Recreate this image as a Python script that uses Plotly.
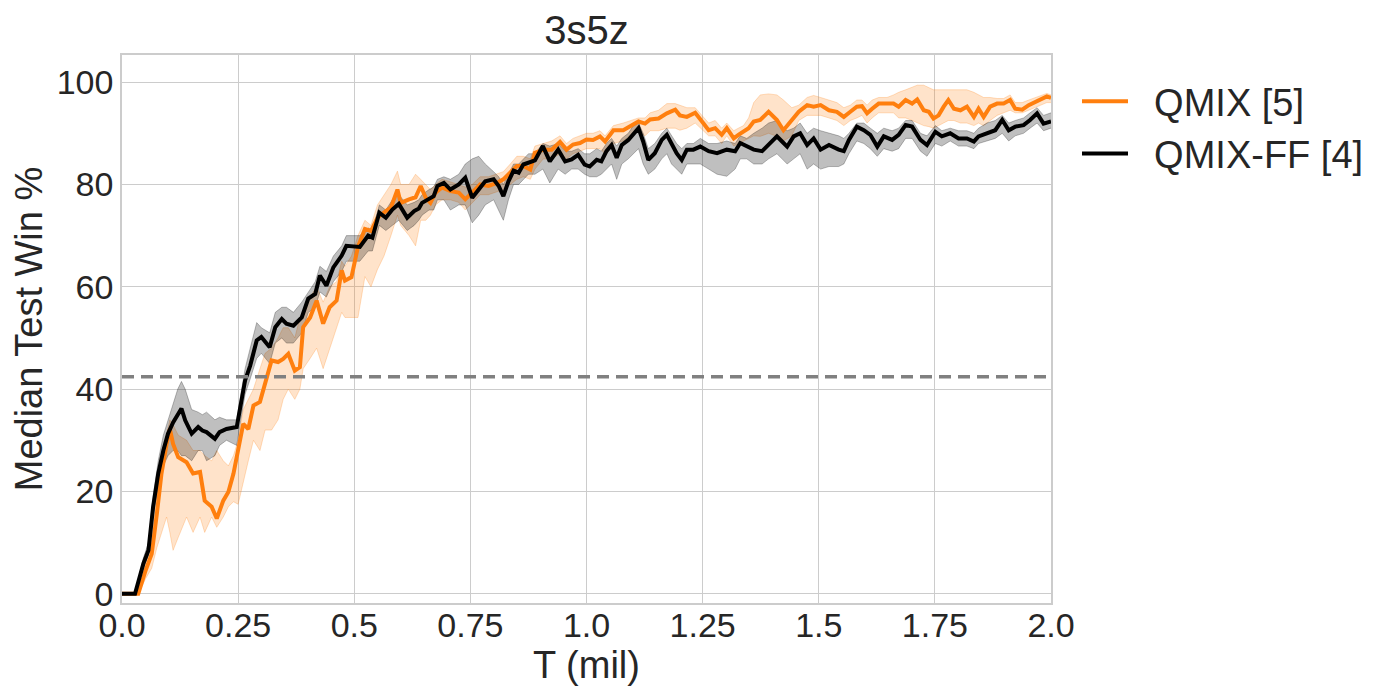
import plotly.graph_objects as go

# ---------------- data ----------------
ff_x = [0.0, 0.028, 0.046, 0.057, 0.067, 0.078, 0.089, 0.099, 0.11, 0.12, 0.128, 0.136, 0.15, 0.164, 0.173,
        0.182, 0.2, 0.21, 0.225, 0.247, 0.254, 0.265, 0.276, 0.29, 0.3, 0.318, 0.33, 0.344, 0.354, 0.369,
        0.387, 0.401, 0.416, 0.426, 0.44, 0.455, 0.473, 0.483, 0.512, 0.53, 0.539, 0.554, 0.568, 0.582,
        0.596, 0.614, 0.629, 0.639, 0.646, 0.661, 0.671, 0.679, 0.693, 0.707, 0.725, 0.739, 0.754, 0.768,
        0.782, 0.8, 0.811, 0.821, 0.832, 0.843, 0.854, 0.864, 0.875, 0.889, 0.906, 0.921, 0.939, 0.954,
        0.968, 0.982, 0.996, 1.007, 1.022, 1.032, 1.043, 1.054, 1.065, 1.076, 1.09, 1.101, 1.112, 1.122,
        1.133, 1.147, 1.162, 1.173, 1.183, 1.194, 1.205, 1.216, 1.23, 1.245, 1.263, 1.281, 1.302, 1.32,
        1.331, 1.345, 1.36, 1.378, 1.392, 1.41, 1.421, 1.432, 1.446, 1.46, 1.475, 1.489, 1.504, 1.522,
        1.543, 1.554, 1.565, 1.582, 1.597, 1.611, 1.626, 1.64, 1.658, 1.672, 1.687, 1.701, 1.719, 1.733,
        1.751, 1.765, 1.783, 1.801, 1.819, 1.834, 1.844, 1.862, 1.88, 1.895, 1.909, 1.923, 1.941, 1.955,
        1.97, 1.984, 2.0]
ff_med = [0, 0, 5.9, 8.5, 17, 23.5, 28, 31.3, 33.5, 35, 36.2, 33.9, 31.3, 32.6, 31.9,
          31.6, 30.3, 31.6, 32.2, 32.6, 35.8, 41.7, 44.6, 49.5, 50.2, 48.2, 52.1, 53.7, 52.8, 52.4,
          54, 57.7, 58.6, 62.2, 60.2, 63.8, 66.1, 68, 67.8, 70, 69.6, 74.5, 73.5, 75.1,
          76.2, 73.5, 74.8, 75.3, 76.4, 77.1, 77.7, 79.7, 80.3, 79, 80, 81.3, 77.4, 79,
          80.6, 81, 79.7, 77.7, 80.6, 82.7, 82.3, 83.9, 84.2, 84.7, 87.5, 84.5, 86.8, 84.5,
          84.9, 85.8, 83.9, 83.5, 84.8, 84.5, 86.5, 87.7, 85.2, 87.7, 88.7, 90, 91, 88.4,
          84.8, 86.1, 88.7, 89.7, 88.1, 86.1, 84.8, 86.8, 86.8, 87.4, 86.5, 86.1, 86.8, 86.5,
          88.1, 87.4, 86.8, 86.5, 87.7, 89.4, 88.4, 87.4, 89.4, 90, 87.7, 89, 86.8, 87.7,
          86.8, 86.5, 88.7, 91.3, 90.6, 89.7, 87.4, 89.4, 88.7, 89.7, 91.6, 91.3, 88.7, 87.7,
          90.3, 89.4, 90, 89, 89, 88.4, 89.4, 90, 90.6, 92.6, 90.6, 91.3, 91.6, 92.6,
          93.9, 91.9, 92.3]
ff_lo = [0, 0, 5, 7.5, 15, 21, 25, 27, 28, 28, 27, 27, 26, 28, 28,
         26, 27, 29, 30, 29, 33, 39, 42, 46, 47, 45, 49, 50, 49, 49,
         51, 55, 56, 59, 58, 61, 63, 65, 65, 67, 67, 72, 71, 72,
         73, 71, 72, 73, 74, 75, 75, 77, 77, 75, 76, 76, 72.5, 74,
         76, 77, 75, 73, 77, 80, 80, 81, 82, 82, 83, 80.3, 83, 82,
         83, 83, 82, 81.5, 81.5, 82, 83, 84, 81, 84, 85, 86, 87, 84,
         82, 83, 85, 86, 84, 83, 82, 84, 84, 84, 83, 82, 81.6, 83,
         85, 85, 84, 84, 85, 86, 85, 84, 85, 86, 83, 84, 83, 83.5,
         83.5, 84, 86, 88.5, 88, 87, 85.5, 87, 86.5, 87, 89, 89, 86.5, 85.5,
         88, 87.5, 88.5, 87.5, 87.5, 87, 88, 88.5, 89, 90, 88.5, 89.5, 90, 91,
         92, 90.5, 91]
ff_hi = [0, 0, 7, 10, 19, 26, 31, 34, 37, 40, 41.5, 40, 36, 35.5, 35,
         35.5, 34, 34.5, 34, 34, 38, 44, 48, 53, 52, 51, 55, 56, 56, 55,
         57, 59, 61, 64, 63, 66, 68, 70, 70, 71.5, 71, 76, 75, 77,
         78, 76, 76.5, 77, 78, 79, 79.5, 81, 81.5, 81, 82, 84, 85, 85.5,
         84, 82.5, 81.5, 80, 82, 84, 84, 85, 86, 86, 88, 87.5, 88, 86.5,
         86.5, 87, 86, 86, 87, 86.5, 88, 89, 87.5, 89, 90, 91.5, 92, 90,
         87, 88, 90, 91, 89.5, 88, 87, 88, 88, 89, 88, 88, 88.5, 88,
         89.5, 89, 90, 91, 92, 92.5, 91, 90.5, 91, 92, 90, 91, 90.5, 90,
         89.5, 89, 90, 92, 92, 91, 90, 91, 90.5, 91, 92.5, 92.5, 90, 89.5,
         91.5, 90.5, 91, 90.5, 90.5, 90, 91, 92, 92.5, 93.5, 92, 92.5, 93, 94,
         95, 93.5, 94]

qm_x = [0.0, 0.035, 0.051, 0.064, 0.075, 0.085, 0.096, 0.103, 0.11, 0.121, 0.139, 0.153, 0.168, 0.178,
        0.193, 0.204, 0.218, 0.229, 0.24, 0.25, 0.261, 0.272, 0.283, 0.297, 0.308, 0.322, 0.336, 0.347,
        0.358, 0.372, 0.383, 0.39, 0.405, 0.419, 0.433, 0.447, 0.462, 0.473, 0.48, 0.494, 0.508, 0.523,
        0.536, 0.55, 0.564, 0.579, 0.593, 0.6, 0.618, 0.632, 0.643, 0.654, 0.664, 0.675, 0.689, 0.707,
        0.725, 0.739, 0.754, 0.771, 0.789, 0.807, 0.821, 0.836, 0.85, 0.864, 0.879, 0.889, 0.907, 0.925,
        0.943, 0.957, 0.971, 0.986, 1.0, 1.014, 1.029, 1.04, 1.058, 1.079, 1.094, 1.112, 1.126, 1.137,
        1.155, 1.173, 1.191, 1.201, 1.216, 1.234, 1.252, 1.263, 1.277, 1.291, 1.302, 1.317, 1.327, 1.338,
        1.349, 1.36, 1.374, 1.392, 1.41, 1.424, 1.442, 1.457, 1.475, 1.489, 1.504, 1.522, 1.539, 1.554,
        1.568, 1.582, 1.593, 1.604, 1.615, 1.629, 1.647, 1.661, 1.672, 1.687, 1.701, 1.712, 1.726, 1.737,
        1.747, 1.758, 1.769, 1.779, 1.791, 1.805, 1.819, 1.834, 1.844, 1.855, 1.869, 1.884, 1.898, 1.912,
        1.923, 1.938, 1.952, 1.966, 1.981, 1.991, 2.0]
qm_med = [0, 0, 4.6, 7.8, 15.6, 23.5, 29.3, 32.2, 29.3, 26.7, 25.7, 23.5, 23.8, 18.2,
          17, 14.7, 18.2, 19.9, 23.5, 28, 33.2, 32.2, 36.8, 37.5, 41, 45.6, 45.3, 45.9,
          46.9, 43.6, 44.3, 52.1, 54, 57.3, 52.8, 56, 57.3, 63.2, 61.2, 61.9, 67.8, 71.3,
          70.9, 73.5, 74.5, 75.5, 79, 76.4, 77.1, 77.5, 79.7, 77.4, 76.4, 78.4, 79.4, 78.7,
          78.4, 77.1, 78.4, 80, 79.7, 80.3, 81, 82.3, 83.6, 83.6, 82.9, 86.2, 86.8, 86.8,
          88.3, 86.8, 87.8, 88.1, 88.8, 88.7, 89.4, 88.4, 90.6, 90.6, 91.4, 92.3, 91.9, 92.7,
          92.9, 93.9, 94.6, 93.5, 93.2, 94, 91.9, 90.6, 91, 89.7, 91, 89, 89.7, 90.3,
          91, 92.3, 92.6, 94.2, 92.6, 90.6, 92.6, 94.2, 95.5, 95.2, 95.5, 94.5, 94.2, 93.2,
          94.2, 95.2, 95.3, 93.9, 94.8, 95.8, 95.8, 95.8, 95.2, 96.5, 95.8, 96.6, 94.5, 94.2,
          92.9, 93.5, 95.2, 96.5, 94.8, 94.5, 95.2, 93.2, 94.8, 93.2, 95.2, 95.8, 95.8, 96.5,
          94.8, 94.6, 95.5, 96.1, 96.8, 97.2, 96.9]
qm_lo = [0, 0, 3, 5, 9, 12, 15, 12, 8.5, 11, 15, 12, 15, 12,
         15, 13, 15, 17, 18, 17.5, 22, 26, 30, 28, 32, 32, 34, 38,
         40, 38, 40, 44, 46, 48, 44, 48, 52, 55, 54, 54, 54, 62,
         60, 63.4, 66, 70, 74, 72, 70, 68, 73, 73, 74, 76, 77, 77,
         76.5, 75, 76.5, 78, 78, 78.5, 79, 80, 81, 81.5, 81, 83, 85, 85,
         86, 85, 86, 86.5, 87, 87, 87, 86, 88, 88.5, 89.5, 90.5, 89.5, 90.5,
         90.5, 91, 91, 90.6, 91, 92, 90.5, 89.5, 89.5, 88, 89.5, 87.5, 88, 88.5,
         89, 89.5, 89.4, 90, 89.4, 88.5, 89.5, 92.5, 93.5, 93.5, 93.5, 93, 92.5, 91.5,
         92.5, 93, 93.5, 92, 93, 94, 94, 94, 93, 93, 92.5, 92, 91.5, 91.3,
         91, 91.5, 92, 92.5, 92.5, 92, 92, 91.5, 92, 91.5, 92.5, 93.5, 94, 94.5,
         94, 94, 94.5, 95, 95.5, 96, 96]
qm_hi = [0, 0, 6, 11, 19, 26, 31, 34, 33, 31, 30, 28, 28, 27,
         26, 28, 26, 25, 27, 30, 36, 38, 40, 44, 47, 48, 50, 52,
         52, 50, 54, 55, 58, 60, 57, 60, 61, 65, 64, 66, 70, 73,
         72, 76, 78, 80, 82.6, 80, 80, 82, 81, 80, 79, 80, 81, 80.5,
         80, 79.5, 80, 81.5, 81.5, 82, 82.5, 84, 85.5, 85.5, 85, 87.5, 88, 88.5,
         89.5, 88, 89, 89.5, 90, 90, 90.5, 89.5, 91.5, 92, 92.5, 93, 93, 94,
         94.5, 95.8, 95.8, 95.5, 95, 95, 93, 92, 92.5, 91, 92, 90.5, 91, 91.5,
         93, 96, 97.5, 97.7, 97.5, 96.5, 95, 95.5, 97, 97.4, 97, 96.5, 96, 95,
         95.5, 96.5, 96.5, 95.5, 96.5, 97, 97, 97.5, 98, 98.5, 99, 99.4, 99.4, 99,
         98.5, 98.5, 98.5, 98.5, 98.5, 98.5, 98.5, 98, 97.5, 97, 97, 96.8, 96.8, 97.5,
         96, 96, 96.5, 97, 97.5, 97.8, 97.5]

baseline = 42.4
series_names = ["QMIX [5]", "QMIX-FF [4]"]
x_ticks = [0.0, 0.25, 0.5, 0.75, 1.0, 1.25, 1.5, 1.75, 2.0]
x_tick_text = ["0.0", "0.25", "0.5", "0.75", "1.0", "1.25", "1.5", "1.75", "2.0"]
y_ticks = [0, 20, 40, 60, 80, 100]

# ---------------- figure ----------------
FONT = "Liberation Sans, Arial, sans-serif"
TXT = "#262626"
ORANGE = "#ff7f0e"
OFF = 8  # browser body margin compensation
PAD = "\u00a0\u00a0"  # gap between legend line sample and label

# target plot box on screen: x 122..1051, y 55..603
L, T = 122 - OFF, 55 - OFF
PW, PH = 1051 - 122, 603 - 55

fig = go.Figure()


def add_band(x, lo, hi, fill, edge, group):
    fig.add_trace(go.Scatter(x=x, y=lo, mode="lines", line=dict(color=edge, width=1),
                             showlegend=False, hoverinfo="skip", legendgroup=group))
    fig.add_trace(go.Scatter(x=x, y=hi, mode="lines", line=dict(color=edge, width=1),
                             fill="tonexty", fillcolor=fill, showlegend=False, hoverinfo="skip",
                             legendgroup=group))


add_band(qm_x, qm_lo, qm_hi, "rgba(255,127,14,0.22)", "rgba(255,127,14,0.25)", "a")
add_band(ff_x, ff_lo, ff_hi, "rgba(0,0,0,0.25)", "rgba(0,0,0,0.25)", "b")

fig.add_trace(go.Scatter(x=qm_x, y=qm_med, mode="lines", name=PAD + series_names[0], legendgroup="a",
                         line=dict(color=ORANGE, width=4)))
fig.add_trace(go.Scatter(x=ff_x, y=ff_med, mode="lines", name=PAD + series_names[1], legendgroup="b",
                         line=dict(color="black", width=4)))
fig.add_trace(go.Scatter(x=[0, 2.0], y=[baseline, baseline], mode="lines", showlegend=False,
                         line=dict(color="#808080", width=3.5, dash="12px,7px"), hoverinfo="skip"))

fig.update_layout(
    width=1400, height=700,
    margin=dict(l=L, r=1400 - L - PW, t=T, b=700 - T - PH),
    paper_bgcolor="white", plot_bgcolor="white",
    font=dict(family=FONT, size=34, color=TXT),
    title=dict(text="3s5z", x=(122 + 1051) / 2 / 1400 - OFF / 1400, xanchor="center", xref="container",
               y=1 - (30 - OFF) / 700, yref="container", yanchor="middle",
               font=dict(size=40, color=TXT, family=FONT)),
    legend=dict(x=(1077 - 122) / PW, y=1 - (70 - 55) / PH, xanchor="left", yanchor="top",
                bgcolor="rgba(0,0,0,0)", traceorder="normal",
                font=dict(size=38, color=TXT, family=FONT), itemwidth=46, tracegroupgap=8),
    showlegend=True,
)
fig.update_xaxes(range=[0, 2.0], tickvals=x_ticks, ticktext=x_tick_text,
                 showgrid=True, gridcolor="#cccccc", gridwidth=1, zeroline=False,
                 showline=True, linecolor="#cccccc", linewidth=1.5, mirror=True,
                 ticks="", ticklen=0, ticklabelstandoff=-9,
                 title=dict(text="T (mil)", standoff=2, font=dict(size=38, color=TXT)),
                 tickfont=dict(size=34, color=TXT))
fig.update_yaxes(range=[-1.8, 105.3], tickvals=y_ticks,
                 showgrid=True, gridcolor="#cccccc", gridwidth=1, zeroline=False,
                 showline=True, linecolor="#cccccc", linewidth=1.5, mirror=True,
                 ticks="", ticklen=0, ticklabelstandoff=0,
                 title=dict(text="Median Test Win %", standoff=3, font=dict(size=38, color=TXT)),
                 tickfont=dict(size=34, color=TXT))

fig.write_html("out.html")
